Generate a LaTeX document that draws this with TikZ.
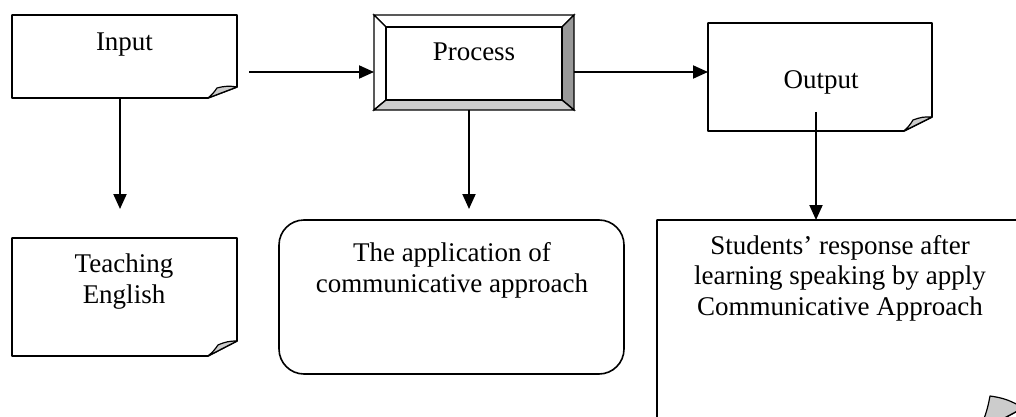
\documentclass[tikz,border=0pt]{standalone}
\usepackage{fontspec}
\setmainfont{Liberation Serif}
\usetikzlibrary{arrows.meta,calc}

\tikzset{
  boxline/.style={draw=black, line width=1.6pt, fill=white},
  frame/.style={inner sep=0pt, outer sep=0pt, draw=none},
  foldfill/.style={draw=black, line width=1.2pt, fill=black!20, line join=round},
  link/.style={line width=2pt, -{Triangle[length=15pt,width=13pt]}},
  lbl/.style={inner sep=0pt, align=center, anchor=base,
              font=\fontsize{27pt}{30.5pt}\selectfont},
}

% sheet with a folded bottom-right corner:
% #1 node, #2 fold width, #3 fold height, #4/#5 curl tip offset from the corner
\newcommand\notesheet[5]{%
  \draw[boxline, line join=round]
    (#1.south west) -- (#1.north west) -- (#1.north east)
    -- ($(#1.south east)+(0,-#3)$) -- ($(#1.south east)+(-#2,0)$) -- cycle;
  \filldraw[foldfill]
    ($(#1.south east)+(-#2,0)$) to[bend right=8] ($(#1.south east)+(-#4,-#5)$)
    to[bend left=12] ($(#1.south east)+(0,-#3)$) -- cycle;
}

\begin{document}
\begin{tikzpicture}[x=1pt, y=-1pt]
\useasboundingbox (0,0) rectangle (1016,417);
\fill[white] (0,0) rectangle (1016,417);
\clip (0,0) rectangle (1016,417);

% box frames
\node[frame, minimum width=225pt, minimum height=83pt]  (inp)   at (124.5,56.5) {};
\node[frame, minimum width=200pt, minimum height=95pt]  (proc)  at (474,62.5) {};
\node[frame, minimum width=224pt, minimum height=108pt] (outp)  at (820,77) {};
\node[frame, minimum width=225pt, minimum height=118pt] (teach) at (124.5,297) {};
\node[frame, minimum width=345pt, minimum height=154pt] (appl)  at (451.5,297) {};
\node[frame, minimum width=366pt, minimum height=212pt] (stud)  at (840,326) {};

% folded sheets
\notesheet{inp}{29}{11}{20}{10}
\notesheet{outp}{28}{14}{19}{11}
\notesheet{teach}{29}{15}{19}{11}
\notesheet{stud}{45}{24}{33}{36}

% bevelled process box
\begin{scope}[line width=1.4pt, line join=miter]
  \path (proc.north west) ++(12,12) coordinate (pi1);
  \path (proc.south east) ++(-12,-10) coordinate (pi2);
  \filldraw[fill=white] (proc.north west) -- (proc.north east) -- (pi2 |- pi1) -- (pi1) -- cycle;
  \filldraw[fill=white] (proc.north west) -- (pi1) -- (pi1 |- pi2) -- (proc.south west) -- cycle;
  \filldraw[fill=black!40] (proc.north east) -- (proc.south east) -- (pi2) -- (pi2 |- pi1) -- cycle;
  \filldraw[fill=black!20] (proc.south west) -- (pi1 |- pi2) -- (pi2) -- (proc.south east) -- cycle;
  \draw[fill=white] (pi1) rectangle (pi2);
\end{scope}

% rounded box
\draw[boxline, rounded corners=25pt] (appl.north west) rectangle (appl.south east);

% labels (base anchor sits on the last line)
\node[lbl] at (124.5,51) {Input};
\node[lbl] at (474,61) {Process};
\node[lbl] at (821,89) {Output};
\node[lbl] at (124,303) {Teaching\\English};
\node[lbl] at (452,292) {The application of\\communicative approach};
\node[lbl] at (840,315) {Students’ response after\\learning speaking by apply\\Communicative Approach};

% connectors
\coordinate (feed) at (249,72);
\coordinate (dropA) at (120,209);
\coordinate (dropB) at (469,209);
\coordinate (stem) at (816,112);
\draw[link] (feed) -- (feed -| proc.west);
\draw[link] (proc.east |- feed) -- (outp.west |- feed);
\draw[link] (dropA |- inp.south) -- (dropA);
\draw[link] (dropB |- proc.south) -- (dropB);
\draw[link] (stem) -- (stem |- stud.north);
\end{tikzpicture}
\end{document}
